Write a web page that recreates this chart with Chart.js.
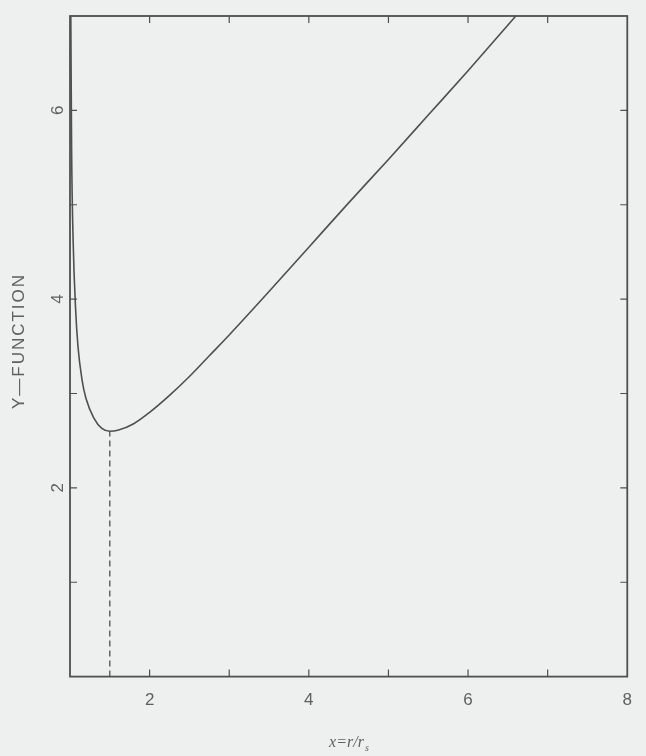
<!DOCTYPE html>
<html>
<head>
<meta charset="utf-8">
<script src="https://cdn.jsdelivr.net/npm/chart.js@4"></script>
<style>
  html, body { margin: 0; padding: 0; background: #eef0f0; }
  #wrap { width: 646px; height: 756px; }
</style>
</head>
<body>
<div id="wrap"><canvas id="c" width="646" height="756"></canvas></div>
<script>
// Y-function against x = r/r_s
const xVals = [1.01, 1.02, 1.04, 1.07, 1.1, 1.15, 1.2, 1.3, 1.4, 1.5, 1.6, 1.8, 2.0, 2.25, 2.5, 2.75, 3.0, 3.5, 4.0, 4.5, 5.0, 5.5, 6.0, 6.6];
const yVals = [7.0, 5.6, 4.6, 3.9, 3.5, 3.15, 2.95, 2.74, 2.63, 2.60, 2.61, 2.68, 2.80, 2.98, 3.18, 3.40, 3.62, 4.08, 4.55, 5.02, 5.48, 5.95, 6.42, 7.0];

// vertical dashed marker at the minimum
const minX = [1.5, 1.5];
const minY = [0, 2.6];

// axis ticks
const xTickLabels = [2, 4, 6, 8];
const yTickLabels = [2, 4, 6];

const ink = '#4f4f4f';
const textInk = '#606060';

const curve = xVals.map((x, i) => ({ x: x, y: yVals[i] }));
const marker = minX.map((x, i) => ({ x: x, y: minY[i] }));

// frame, inward tick marks, rotated y labels and axis titles
const framePlugin = {
  id: 'frame',
  afterDraw(chart) {
    const { ctx, chartArea: a, scales } = chart;
    const xs = scales.x, ys = scales.y;
    ctx.save();
    ctx.strokeStyle = ink;
    ctx.lineWidth = 1.8;
    ctx.strokeRect(a.left, a.top, a.right - a.left, a.bottom - a.top);

    ctx.lineWidth = 1.2;
    const tl = 7;
    for (let v = 2; v <= 7; v++) {
      const px = xs.getPixelForValue(v);
      ctx.beginPath();
      ctx.moveTo(px, a.bottom); ctx.lineTo(px, a.bottom - tl);
      ctx.moveTo(px, a.top); ctx.lineTo(px, a.top + tl);
      ctx.stroke();
    }
    for (let v = 1; v <= 6; v++) {
      const py = ys.getPixelForValue(v);
      ctx.beginPath();
      ctx.moveTo(a.left, py); ctx.lineTo(a.left + tl, py);
      ctx.moveTo(a.right, py); ctx.lineTo(a.right - tl, py);
      ctx.stroke();
    }

    ctx.fillStyle = textInk;
    ctx.font = '17px "Liberation Sans", sans-serif';
    ctx.textAlign = 'center';
    ctx.textBaseline = 'middle';
    yTickLabels.forEach(v => {
      const py = ys.getPixelForValue(v);
      ctx.save();
      ctx.translate(a.left - 12, py);
      ctx.rotate(-Math.PI / 2);
      ctx.fillText(String(v), 0, 0);
      ctx.restore();
    });

    // y title
    ctx.save();
    ctx.translate(19, 341);
    ctx.rotate(-Math.PI / 2);
    ctx.font = '17px "Liberation Sans", sans-serif';
    ctx.letterSpacing = '2px';
    ctx.fillText('Y\u2014FUNCTION', 0, 0);
    ctx.restore();

    // x title: x=r/r_s
    ctx.textAlign = 'left';
    ctx.textBaseline = 'alphabetic';
    ctx.font = 'italic 16px "Liberation Serif", serif';
    const main = 'x=r/r';
    const w = ctx.measureText(main).width;
    const x0 = 350 - (w + 7) / 2;
    ctx.fillText(main, x0, 747);
    ctx.font = 'italic 10px "Liberation Serif", serif';
    ctx.fillText('s', x0 + w + 1, 751);
    ctx.restore();
  }
};

new Chart(document.getElementById('c'), {
  type: 'scatter',
  data: {
    datasets: [
      {
        data: curve,
        showLine: true,
        borderColor: ink,
        borderWidth: 1.6,
        pointRadius: 0,
        cubicInterpolationMode: 'monotone',
        fill: false
      },
      {
        data: marker,
        showLine: true,
        borderColor: ink,
        borderWidth: 1.3,
        borderDash: [6, 4],
        pointRadius: 0,
        fill: false
      }
    ]
  },
  options: {
    responsive: false,
    animation: false,
    layout: { padding: { left: 70, right: -7, top: 16, bottom: 31 } },
    plugins: { legend: { display: false }, tooltip: { enabled: false } },
    scales: {
      x: {
        type: 'linear',
        min: 1, max: 8,
        afterBuildTicks(scale) { scale.ticks = xTickLabels.map(v => ({ value: v })); },
        ticks: {
          color: textInk,
          font: { family: '"Liberation Sans", sans-serif', size: 17 },
          padding: 14,
          maxRotation: 0,
          callback: v => String(v)
        },
        grid: { display: false, drawTicks: false },
        border: { display: false }
      },
      y: {
        type: 'linear',
        min: 0, max: 7,
        ticks: { display: false },
        grid: { display: false, drawTicks: false },
        border: { display: false }
      }
    }
  },
  plugins: [framePlugin]
});
</script>
</body>
</html>
